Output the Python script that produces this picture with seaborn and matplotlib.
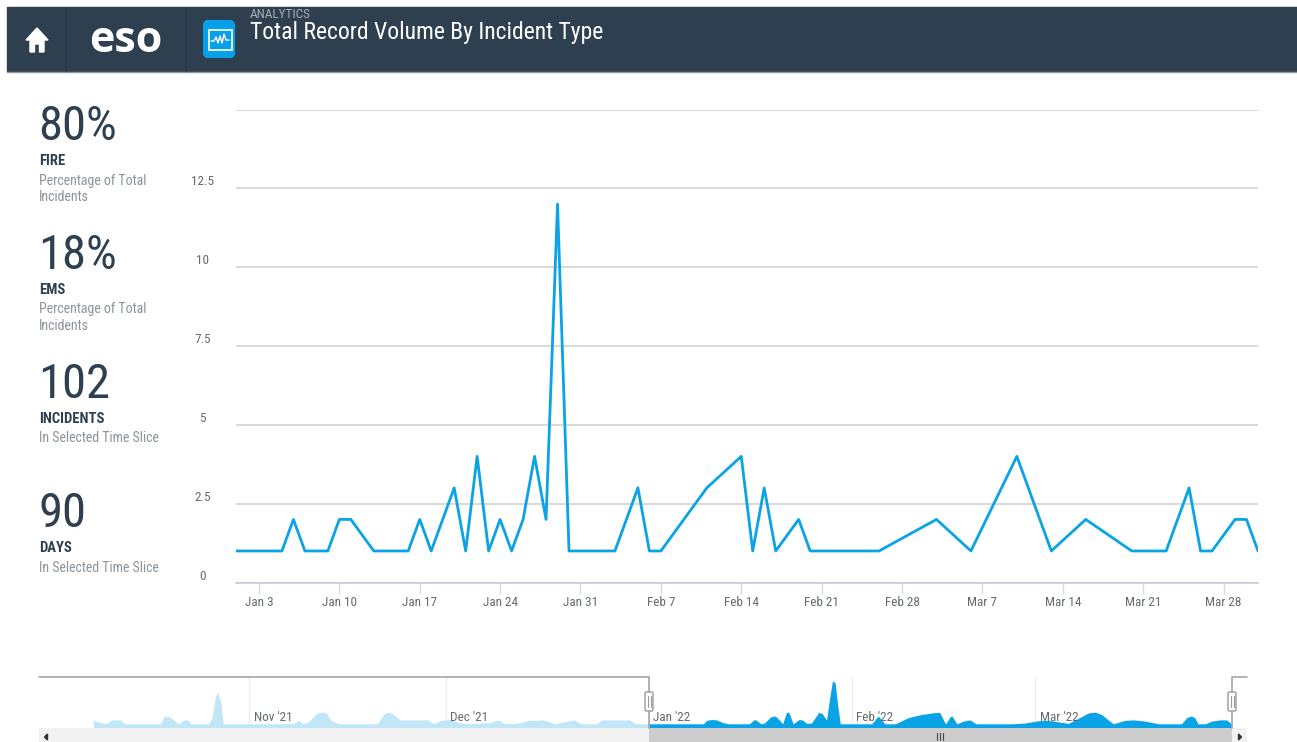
import pandas as pd
import seaborn as sns
import matplotlib.pyplot as plt
from matplotlib.patches import Rectangle, Polygon, FancyBboxPatch
from matplotlib.transforms import ScaledTranslation

W, H = 1297, 742

# selected time slice, only days with records
dates = ["2022-01-01", "2022-01-05", "2022-01-06", "2022-01-07", "2022-01-09", "2022-01-10",
         "2022-01-11", "2022-01-13", "2022-01-16", "2022-01-17", "2022-01-18", "2022-01-20",
         "2022-01-21", "2022-01-22", "2022-01-23", "2022-01-24", "2022-01-25", "2022-01-26",
         "2022-01-27", "2022-01-28", "2022-01-29", "2022-01-30", "2022-02-03", "2022-02-05",
         "2022-02-06", "2022-02-07", "2022-02-11", "2022-02-14", "2022-02-15", "2022-02-16",
         "2022-02-17", "2022-02-19", "2022-02-20", "2022-02-26", "2022-03-03", "2022-03-06",
         "2022-03-10", "2022-03-13", "2022-03-16", "2022-03-20", "2022-03-23", "2022-03-25",
         "2022-03-26", "2022-03-27", "2022-03-29", "2022-03-30", "2022-03-31"]
counts = [1, 1, 2, 1, 1, 2, 2, 1, 1, 2, 1, 3, 1, 4, 1, 2, 1, 2, 4, 2, 12, 1, 1, 3, 1, 1, 3, 4,
          1, 3, 1, 2, 1, 1, 2, 1, 4, 1, 2, 1, 1, 3, 1, 1, 2, 2, 1]

x_tick_dates = ["2022-01-03", "2022-01-10", "2022-01-17", "2022-01-24", "2022-01-31", "2022-02-07",
                "2022-02-14", "2022-02-21", "2022-02-28", "2022-03-07", "2022-03-14", "2022-03-21",
                "2022-03-28"]
x_tick_labels = ["Jan 3", "Jan 10", "Jan 17", "Jan 24", "Jan 31", "Feb 7", "Feb 14", "Feb 21",
                 "Feb 28", "Mar 7", "Mar 14", "Mar 21", "Mar 28"]
y_ticks = [0, 2.5, 5, 7.5, 10, 12.5, 15]
y_tick_labels = ["0", "2.5", "5", "7.5", "10", "12.5", ""]

# navigator silhouette, days from Jan 1 2022
hist_days = [-84.8, -84, -82.8, -82.1, -80.7, -80, -74.6, -74, -73.3, -72.6, -71.8, -71, -70.4,
             -69.9, -67.2, -66.7, -66.2, -65.8, -65.4, -65, -54.3, -53.5, -52.8, -52, -50.7,
             -49.9, -49.3, -48.6, -47.4, -41.5, -40.4, -39.7, -39, -38, -33.7, -32.9, -31.7,
             -30.4, -28.8, -27.5, -24.3, -23, -22, -20.2, -18.2, -16.1, -14.4, -11.5, -10.3,
             -8, -7.2, -2.9, -2.1, 0]
hist_vals = [2, 1.4, 1, 2, 2, 1, 1, 2.9, 2.9, 2, 1, 2, 2, 1, 1, 2.8, 8, 9, 6.7, 1, 1, 1.9, 1,
             1.5, 3.7, 4, 3.9, 2, 1, 1, 3.6, 4, 3.4, 2, 2, 1, 1.9, 2.1, 1.2, 1, 1.3, 2, 1, 1.1,
             1.9, 2, 1, 2, 1, 1, 2, 2, 1, 1]
sel_days = [0, 8.3, 8.8, 9.6, 10.3, 11.3, 12.1, 15.3, 16.1, 16.4, 17.1, 17.6, 18.6, 19.3, 19.9,
            20.4, 21, 21.4, 22, 22.9, 23.4, 24.1, 24.8, 25.9, 26.4, 27.1, 27.5, 28, 28.4, 28.8,
            29.2, 34, 35, 36, 37.6, 39.6, 41.6, 43.7, 44.4, 45.1, 45.3, 46, 46.3, 47, 48, 49,
            49.9, 51.8, 55.4, 57.4, 59.5, 61, 64, 66, 67.1, 68.1, 69.1, 70.1, 70.9, 72.7, 74,
            75.7, 77.8, 81.3, 82.1, 82.8, 83.3, 83.8, 84.9, 85.9, 87.2, 88.2, 88.9]
sel_vals = [1, 1, 1.9, 2.1, 2, 1.3, 1, 1, 2.1, 1.9, 1, 1.2, 2.8, 3, 2, 1, 4, 3.8, 1, 2.1, 2,
            1.1, 1.2, 3.9, 3.7, 2, 6.7, 12, 11.6, 5.8, 1, 1, 3, 1, 1, 2.6, 3.4, 3.9, 3.9, 1.5,
            1, 2.9, 2.9, 1, 1.7, 2, 1, 1, 1, 1.2, 1.8, 1.9, 1.1, 2.8, 3.8, 4, 3.4, 2, 1, 1.9,
            2, 1.7, 1, 1, 2.6, 3, 2.6, 1, 1, 1.7, 2, 2, 1]
nav_months = ["2021-11-01", "2021-12-01", "2022-01-01", "2022-02-01", "2022-03-01"]
nav_month_labels = ["Nov '21", "Dec '21", "Jan '22", "Feb '22", "Mar '22"]

stat_values = ["80%", "18%", "102", "90"]
stat_names = ["FIRE", "EMS", "INCIDENTS", "DAYS"]
stat_notes = [["Percentage of Total", "Incidents"], ["Percentage of Total", "Incidents"],
              ["In Selected Time Slice"], ["In Selected Time Slice"]]
stat_y = [125, 254, 383, 512]

df = pd.DataFrame({"date": pd.to_datetime(dates), "count": counts})
jan1 = pd.Timestamp("2022-01-01")
hist = pd.DataFrame({"date": jan1 + pd.to_timedelta(hist_days, unit="D"), "count": hist_vals})
sel = pd.DataFrame({"date": jan1 + pd.to_timedelta(sel_days, unit="D"), "count": sel_vals})

sns.set_theme(style="white")
plt.rcParams["font.family"] = ["Roboto Condensed", "DejaVu Sans"]

BLUE = "#0aa3e6"
NAVY = "#2e3f50"
GRAY = "#666b70"

fig = plt.figure(figsize=(W / 100, H / 100), dpi=100, facecolor="white")


def px_axes(x0, y0, x1, y1):
    return fig.add_axes([x0 / W, 1 - y1 / H, (x1 - x0) / W, (y1 - y0) / H])


def txt(x, y, s, **kw):
    kw.setdefault("va", "center")
    return bg.text(x, y, s, **kw)


# background layer in pixel coords for the header, side panel and scrollbar
bg = fig.add_axes([0, 0, 1, 1], zorder=0)
bg.set_xlim(0, W)
bg.set_ylim(H, 0)
bg.axis("off")
bg.add_patch(Rectangle((7, 7), W - 7, 64, color=NAVY))
bg.plot([7, W], [71.5, 71.5], color="#8d979f", lw=1)
for xd in [66, 186]:
    bg.plot([xd, xd], [7, 71], color="#2a3948", lw=1)
bg.add_patch(Polygon([(37, 28), (48, 40), (44, 40), (44, 52), (39.5, 52), (39.5, 44), (34.5, 44),
                      (34.5, 52), (30, 52), (30, 40), (26, 40)], color="white"))
txt(126, 40, "eso", color="white", fontsize=31, fontweight="bold", ha="center", family="Open Sans")
bg.add_patch(FancyBboxPatch((205, 22), 28, 34, boxstyle="round,pad=0,rounding_size=3", color="#069fe8", lw=3))
bg.add_patch(Rectangle((208.5, 29.5), 23, 20, fill=False, ec="white", lw=1.2))
bg.plot([211, 214, 216, 218, 220, 222, 224, 226, 229], [41, 41, 37, 43, 36, 43, 34, 40, 40], color="white", lw=1)
txt(250, 15, "ANALYTICS", color="#a4adb5", fontsize=9.5)
txt(250, 32, "Total Record Volume By Incident Type", color="white", fontsize=17)

for val, name, notes, y in zip(stat_values, stat_names, stat_notes, stat_y):
    txt(38.5, y + 2, val, color=NAVY, fontsize=35)
    txt(39, y + 36, name, color=NAVY, fontsize=10.5, fontweight="bold")
    for i, note in enumerate(notes):
        txt(39, y + 55.5 + i * 16.5, note, color="#8b949b", fontsize=10)

# main chart
ax = px_axes(236, 109.5, 1258, 582.5)
sns.lineplot(data=df, x="date", y="count", ax=ax, color=BLUE, linewidth=2, zorder=3)
ax.set_xlim(jan1, pd.Timestamp("2022-03-31"))
ax.set_ylim(0, 15)
ax.set_xlabel("")
ax.set_ylabel("")
ax.set_facecolor("none")
ax.set_yticks(y_ticks)
ax.set_yticklabels(y_tick_labels)
ax.set_xticks(pd.to_datetime(x_tick_dates))
ax.set_xticklabels(x_tick_labels)
ax.grid(axis="y", color="#cfcfcf", lw=1.1)
ax.grid(axis="x", visible=False)
sns.despine(ax=ax, left=True, top=True, right=True)
ax.spines["bottom"].set_color("#c8ced8")
ax.tick_params(axis="x", bottom=True, length=8, width=1, color="#d3dbe8", labelsize=9.5,
               labelcolor=GRAY, pad=2)
ax.tick_params(axis="y", left=False, length=0, labelsize=9.5, labelcolor=GRAY, pad=24)
for lab in ax.get_yticklabels():
    lab.set_ha("center")
    lab.set_transform(lab.get_transform() + ScaledTranslation(0, 8 / 100, fig.dpi_scale_trans))

# navigator
nav = px_axes(39, 677, 1247, 727.7)
nav.fill_between(hist["date"], hist["count"], color="#c0e6f8", lw=0)
nav.fill_between(sel["date"], sel["count"], color=BLUE, lw=0, zorder=2)
nav.set_xlim(pd.Timestamp("2021-09-29 21:00"), pd.Timestamp("2022-04-02 07:00"))
nav.set_ylim(0, 13)
nav.set_facecolor("none")
nav.set_yticks([])
nav.set_xticks(pd.to_datetime(nav_months))
nav.set_xticklabels([])
nav.tick_params(axis="x", length=0)
nav.grid(axis="x", color="#ececec", lw=1)
sns.despine(ax=nav, left=True, top=True, right=True, bottom=True)
for m, lab in zip(nav_months, nav_month_labels):
    nav.annotate(lab, (pd.Timestamp(m), 0), xytext=(3, 3), textcoords="offset points",
                 color=GRAY, fontsize=9.5, va="bottom", zorder=4)

# navigator outline, handles and scrollbar
top = fig.add_axes([0, 0, 1, 1], zorder=5)
top.set_xlim(0, W)
top.set_ylim(H, 0)
top.axis("off")
top.add_patch(Rectangle((39, 727.7), 1208, 14.3, color="#f2f2f2", lw=0))
top.add_patch(Rectangle((649, 727.7), 583, 14.3, color="#cccccc", lw=0))
top.add_patch(Polygon([(47.5, 734), (47.5, 740), (44.5, 737)], color="#333333"))
top.add_patch(Polygon([(1238.5, 734), (1238.5, 740), (1241.5, 737)], color="#333333"))
for xg in [937, 940, 943]:
    top.plot([xg, xg], [733, 740], color="#444444", lw=0.8)
top.plot([39, 649, 649], [677, 677, 727.7], color="#a6a6a6", lw=1.2)
top.plot([1247, 1232, 1232], [677, 677, 727.7], color="#a6a6a6", lw=1.2)
for xh in [649, 1232]:
    top.add_patch(FancyBboxPatch((xh - 4, 692), 8, 19, boxstyle="round,pad=0,rounding_size=1.5",
                                 fc="white", ec="#9a9a9a", lw=1, zorder=6))
    for dx in [-1.5, 1.5]:
        top.plot([xh + dx, xh + dx], [696, 707], color="#9a9a9a", lw=0.8, zorder=7)

fig.savefig("out.png", dpi=100)
